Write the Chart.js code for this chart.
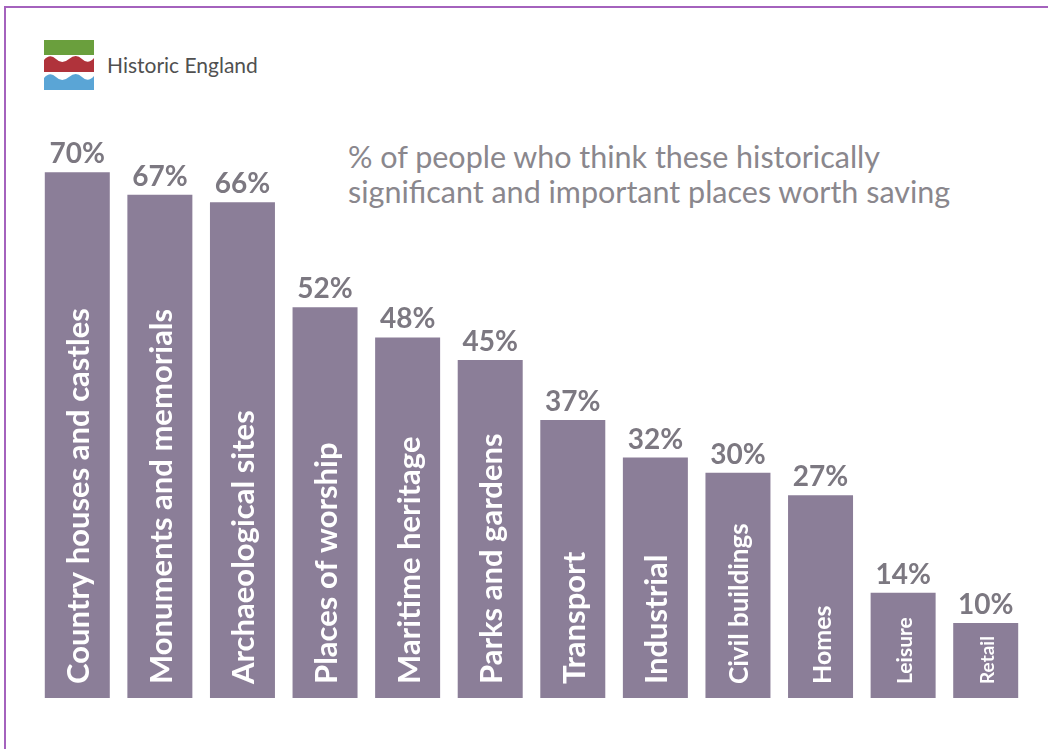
<!DOCTYPE html>
<html>
<head>
<meta charset="utf-8">
<script src="https://cdn.jsdelivr.net/npm/chart.js@4.4.1/dist/chart.umd.min.js"></script>
<style>
  body { margin: 0; background: #fff; }
  #wrap { position: relative; width: 1048px; height: 749px; overflow: hidden; }
  #frame { position: absolute; left: 4px; top: 6px; right: -10px; bottom: -10px;
           border-top: 2px solid #a462bd; border-left: 2px solid #a462bd; }
  #logo { position: absolute; left: 44px; top: 40px; }
  #brand { position: absolute; left: 107px; top: 52px; font: 21px Lato, sans-serif; color: #505050; }
  #title { position: absolute; left: 348px; top: 139px; font: 30.5px/35px Lato, sans-serif; color: #8a878d; }
  canvas { position: absolute; left: 0; top: 0; }
</style>
</head>
<body>
<div id="wrap">
  <div id="frame"></div>
  <svg id="logo" width="52" height="52" viewBox="0 0 52 52">
    <rect x="0" y="0" width="50" height="15" fill="#6a9f3d"/>
    <path d="M0 20 Q6 13 12 19 T25 19 T38 19 T50 18 L50 32 L0 32 Z" fill="#b0333b"/>
    <path d="M0 38 Q6 31 12 37 T25 37 T38 37 T50 36 L50 50 L0 50 Z" fill="#5aa5d6"/>
  </svg>
  <div id="brand">Historic England</div>
  <div id="title">% of people who think these historically<br>significant and important places worth saving</div>
  <canvas id="myChart" width="1048" height="749"></canvas>
</div>
<script>
const categories = ["Country houses and castles", "Monuments and memorials", "Archaeological sites",
  "Places of worship", "Maritime heritage", "Parks and gardens", "Transport", "Industrial",
  "Civil buildings", "Homes", "Leisure", "Retail"];
const percentSaving = [70, 67, 66, 52, 48, 45, 37, 32, 30, 27, 14, 10];

// font size of the name written up each bar
const labelSizes = [31, 31, 31, 31, 31, 31, 31, 31, 26, 25, 21, 19];

const barLabels = {
  id: "barLabels",
  afterDatasetsDraw(chart) {
    const ctx = chart.ctx;
    const meta = chart.getDatasetMeta(0);
    meta.data.forEach((bar, i) => {
      // value above the bar
      ctx.save();
      ctx.fillStyle = "#7c7881";
      ctx.font = "bold 28px Lato";
      ctx.textAlign = "center";
      ctx.textBaseline = "alphabetic";
      ctx.fillText(percentSaving[i] + "%", bar.x, bar.y - 9);
      ctx.restore();
      // category name inside the bar
      ctx.save();
      ctx.fillStyle = "#ffffff";
      ctx.font = "bold " + labelSizes[i] + "px Lato";
      ctx.translate(bar.x + 2, bar.base - 14);
      ctx.rotate(-Math.PI / 2);
      ctx.textAlign = "left";
      ctx.textBaseline = "middle";
      ctx.fillText(categories[i], 0, 0);
      ctx.restore();
    });
  },
};

const chart = new Chart(document.getElementById("myChart"), {
  type: "bar",
  data: {
    labels: categories,
    datasets: [
      {
        data: percentSaving,
        backgroundColor: "#8b7e98",
        categoryPercentage: 1,
        barPercentage: 0.787,
      },
    ],
  },
  options: {
    responsive: false,
    animation: false,
    layout: { padding: { left: 36, right: 21, top: 97, bottom: 51 } },
    plugins: { legend: { display: false }, tooltip: { enabled: false } },
    scales: {
      x: { display: false },
      y: { display: false, min: 0, max: 80 },
    },
  },
  plugins: [barLabels],
});
</script>
</body>
</html>
